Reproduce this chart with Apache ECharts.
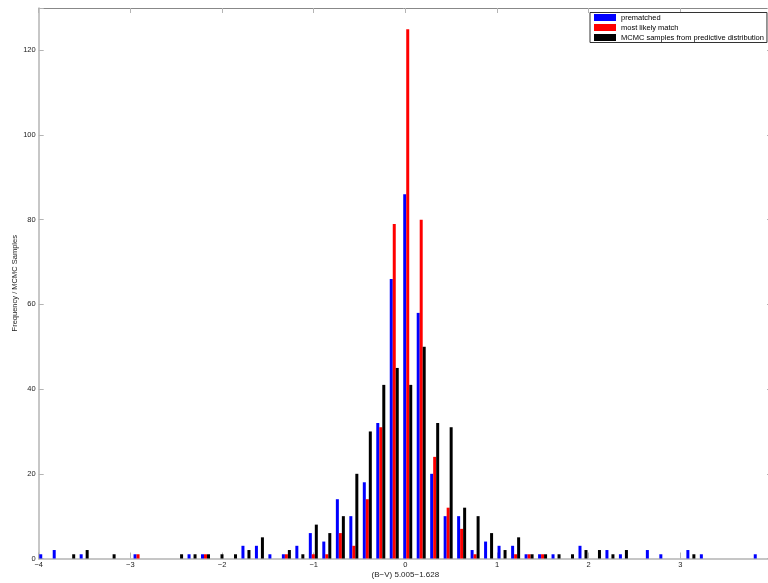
<!DOCTYPE html>
<html lang="en">
<head>
    <meta charset="UTF-8">
    <title>Histogram</title>
    <style>
        html, body { margin: 0; padding: 0; background: #fff; }
        #main { width: 768px; height: 583px; }
    </style>
</head>
<body>
<div id="main"></div>
<script src="https://cdn.jsdelivr.net/npm/echarts@6/dist/echarts.min.js"></script>
<script>
    // bin centres (B-V residual)
    var binCenters = [
        -3.945, -3.798, -3.651, -3.504, -3.357, -3.210, -3.063, -2.916, -2.769, -2.621,
        -2.474, -2.327, -2.180, -2.033, -1.886, -1.739, -1.592, -1.445, -1.298, -1.151,
        -1.004, -0.857, -0.709, -0.562, -0.415, -0.268, -0.121, 0.026, 0.173, 0.320,
        0.467, 0.614, 0.761, 0.908, 1.055, 1.203, 1.350, 1.497, 1.644, 1.791,
        1.938, 2.085, 2.232, 2.379, 2.526, 2.673, 2.820, 2.967, 3.115, 3.262,
        3.409, 3.556, 3.703, 3.850
    ];
    var prematched = [
        1, 2, 0, 1, 0, 0, 0, 1, 0, 0,
        0, 1, 1, 0, 0, 3, 3, 1, 1, 3,
        6, 4, 14, 10, 18, 32, 66, 86, 58, 20,
        10, 10, 2, 4, 3, 3, 1, 1, 1, 0,
        3, 0, 2, 1, 0, 2, 1, 0, 2, 1,
        0, 0, 0, 1
    ];
    var likelyMatch = [
        0, 0, 0, 0, 0, 0, 0, 1, 0, 0,
        0, 0, 1, 0, 0, 0, 0, 0, 1, 0,
        1, 1, 6, 3, 14, 31, 79, 125, 80, 24,
        12, 7, 1, 0, 0, 1, 1, 1, 0, 0,
        0, 0, 0, 0, 0, 0, 0, 0, 0, 0,
        0, 0, 0, 0
    ];
    var mcmcSamples = [
        0, 0, 1, 2, 0, 1, 0, 0, 0, 0,
        1, 1, 1, 1, 1, 2, 5, 0, 2, 1,
        8, 6, 10, 20, 30, 41, 45, 41, 50, 32,
        31, 12, 10, 6, 2, 5, 1, 1, 1, 1,
        2, 2, 1, 2, 0, 0, 0, 0, 1, 0,
        0, 0, 0, 0
    ];
    var seriesNames = ['prematched', 'most likely match', 'MCMC samples from predictive distribution'];
    var seriesColors = ['#0000ff', '#ff0000', '#000000'];
    var yTicks = [0, 20, 40, 60, 80, 100, 120];

    var chartDom = document.getElementById('main');
    var myChart = echarts.init(chartDom);

    function pairs(values) {
        return values.map(function (v, i) { return [binCenters[i], v]; });
    }

    var axisGray = '#b4b4b4';
    var fontFamily = '"Liberation Sans", Arial, sans-serif';

    var option = {
        animation: false,
        backgroundColor: '#fff',
        grid: {
            left: 38.7, top: 8, width: 733.3, height: 550.5, show: false,
            containLabel: false, outerBoundsMode: 'none'
        },
        legend: {
            orient: 'vertical',
            left: 590,
            top: 12.5,
            padding: [0, 3, 0, 4],
            itemGap: 0,
            itemWidth: 22,
            itemHeight: 7,
            icon: 'rect',
            borderColor: '#333',
            borderWidth: 1,
            backgroundColor: '#fff',
            textStyle: { fontSize: 7.5, lineHeight: 10, color: '#000', fontFamily: fontFamily },
            data: seriesNames
        },
        xAxis: [{
            type: 'value',
            min: -4,
            max: 4,
            interval: 1,
            position: 'bottom',
            name: '(B\u2212V) 5.005\u22121.628',
            nameLocation: 'middle',
            nameGap: 12,
            nameMoveOverlap: false,
            nameTextStyle: { fontSize: 8, color: '#222', fontFamily: fontFamily },
            axisLine: { show: true, onZero: false, lineStyle: { color: axisGray, width: 1.5 } },
            axisTick: { show: true, inside: true, length: 6, lineStyle: { color: axisGray } },
            axisLabel: {
                margin: 2, fontSize: 7.5, color: '#222', fontFamily: fontFamily,
                formatter: function (v) { return v >= 4 ? '' : String(v).replace('-', '\u2212'); }
            },
            splitLine: { show: false }
        }, {
            type: 'value',
            min: -4,
            max: 4,
            interval: 1,
            position: 'top',
            axisLine: { show: true, onZero: false, lineStyle: { color: '#888', width: 1 } },
            axisTick: { show: true, inside: true, length: 5, lineStyle: { color: axisGray } },
            axisLabel: { show: false },
            splitLine: { show: false }
        }],
        yAxis: [{
            type: 'value',
            min: 0,
            max: 130,
            interval: 20,
            name: 'Frequency / MCMC Samples',
            nameLocation: 'middle',
            nameGap: 20,
            nameMoveOverlap: false,
            nameTextStyle: { fontSize: 7.5, color: '#222', fontFamily: fontFamily },
            axisLine: { show: true, onZero: false, lineStyle: { color: axisGray, width: 1.5 } },
            axisTick: { show: true, inside: true, length: 5, lineStyle: { color: axisGray } },
            axisLabel: {
                margin: 3, fontSize: 7.5, color: '#222', fontFamily: fontFamily,
                formatter: function (v) { return yTicks.indexOf(v) >= 0 ? String(v) : ''; }
            },
            splitLine: { show: false }
        }, {
            type: 'value',
            min: 0,
            max: 130,
            interval: 20,
            position: 'right',
            axisLine: { show: true, onZero: false, lineStyle: { color: axisGray, width: 1 } },
            axisTick: { show: true, inside: true, length: 5, lineStyle: { color: axisGray } },
            axisLabel: { show: false },
            splitLine: { show: false }
        }],
        series: [prematched, likelyMatch, mcmcSamples].map(function (vals, i) {
            return {
                name: seriesNames[i],
                type: 'bar',
                xAxisIndex: 0,
                yAxisIndex: 0,
                barWidth: 3,
                barGap: '0%',
                itemStyle: { color: seriesColors[i] },
                data: pairs(vals)
            };
        })
    };

    option && myChart.setOption(option);
</script>
</body>
</html>
